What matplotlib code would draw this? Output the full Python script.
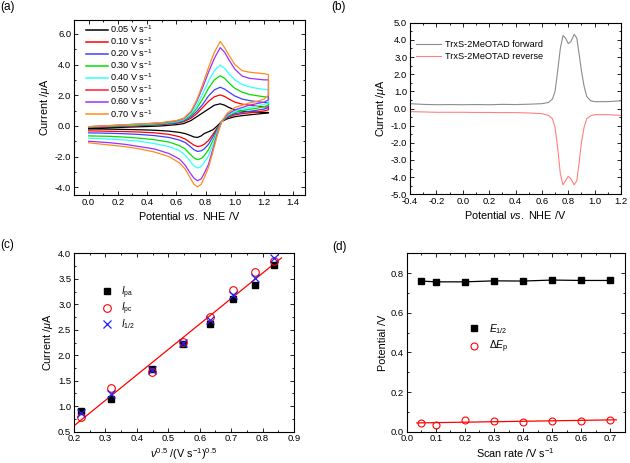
import numpy as np
import matplotlib
matplotlib.use("Agg")
import matplotlib.pyplot as plt
from matplotlib.lines import Line2D
from matplotlib.ticker import MultipleLocator, FormatStrFormatter

plt.rcParams['font.family'] = ['Liberation Sans', 'DejaVu Sans']
plt.rcParams['mathtext.fontset'] = 'custom'
plt.rcParams['mathtext.rm'] = 'Liberation Sans'
plt.rcParams['mathtext.it'] = 'Liberation Sans:italic'
plt.rcParams['mathtext.bf'] = 'Liberation Sans:bold'

# ---------------- Panel (a): CV at different scan rates ----------------
scan_labels = ["0.05", "0.10", "0.20", "0.30", "0.40", "0.50", "0.60", "0.70"]
scan_colors = ["#000000", "#ff0000", "#3f3fff", "#00e000", "#33ffff", "#ff1a3c", "#9b30ff", "#ff8c1a"]

E_fwd = [0.0, 0.1, 0.2, 0.3, 0.4, 0.5, 0.6, 0.65, 0.7, 0.74, 0.78, 0.82, 0.86, 0.9,
         0.93, 0.96, 1.0, 1.05, 1.1, 1.15, 1.2, 1.23]
E_rev = [1.23, 1.2, 1.15, 1.1, 1.05, 1.0, 0.95, 0.91, 0.88, 0.85, 0.82, 0.79, 0.77, 0.745,
         0.72, 0.69, 0.66, 0.62, 0.55, 0.45, 0.35, 0.25, 0.15, 0.05, 0.0]

I_fwd_005 = [-0.15, -0.12, -0.1, -0.07, -0.04, 0.0, 0.08, 0.15, 0.35, 0.6, 0.85, 1.1, 1.35, 1.44, 1.35, 1.2, 1.05, 0.97, 0.92, 0.9, 0.88, 0.87]
I_fwd_010 = [-0.1, -0.07, -0.04, 0.0, 0.04, 0.09, 0.17, 0.27, 0.5, 0.8, 1.2, 1.6, 1.9, 2.02, 1.92, 1.75, 1.55, 1.42, 1.35, 1.3, 1.25, 1.22]
I_fwd_020 = [-0.08, -0.05, -0.02, 0.02, 0.06, 0.11, 0.2, 0.32, 0.6, 0.95, 1.4, 1.95, 2.35, 2.52, 2.4, 2.2, 1.95, 1.75, 1.65, 1.58, 1.53, 1.5]
I_fwd_030 = [-0.07, -0.03, 0.0, 0.04, 0.08, 0.14, 0.24, 0.38, 0.7, 1.15, 1.75, 2.45, 3.0, 3.27, 3.1, 2.8, 2.45, 2.2, 2.05, 1.97, 1.9, 1.88]
I_fwd_040 = [-0.05, 0.0, 0.03, 0.07, 0.12, 0.18, 0.28, 0.42, 0.8, 1.35, 2.1, 2.9, 3.6, 3.97, 3.75, 3.4, 3.0, 2.7, 2.55, 2.45, 2.38, 2.35]
I_fwd_060 = [-0.05, 0.0, 0.05, 0.1, 0.15, 0.2, 0.32, 0.48, 0.9, 1.6, 2.5, 3.5, 4.4, 5.1, 4.8, 4.3, 3.7, 3.25, 3.1, 3.05, 3.0, 3.0]
I_fwd_070 = [-0.05, 0.0, 0.05, 0.1, 0.15, 0.22, 0.35, 0.5, 0.95, 1.7, 2.7, 3.8, 4.8, 5.5, 5.1, 4.6, 4.0, 3.6, 3.5, 3.45, 3.4, 3.35]

I_rev_005 = [0.85, 0.82, 0.77, 0.72, 0.67, 0.6, 0.47, 0.29, 0.0, -0.25, -0.38, -0.5, -0.65, -0.75, -0.72, -0.6, -0.5, -0.42, -0.34, -0.28, -0.25, -0.23, -0.21, -0.2, -0.2]
I_rev_010 = [1.05, 0.98, 0.9, 0.85, 0.8, 0.72, 0.55, 0.29, -0.12, -0.55, -0.95, -1.2, -1.3, -1.34, -1.25, -1.05, -0.85, -0.7, -0.55, -0.45, -0.4, -0.37, -0.35, -0.33, -0.32]
I_rev_020 = [1.2, 1.1, 1.02, 0.95, 0.88, 0.8, 0.6, 0.29, -0.2, -0.7, -1.2, -1.5, -1.62, -1.66, -1.55, -1.3, -1.08, -0.92, -0.75, -0.63, -0.56, -0.51, -0.48, -0.46, -0.45]
I_rev_030 = [1.35, 1.25, 1.15, 1.08, 1.0, 0.88, 0.65, 0.29, -0.3, -0.95, -1.55, -1.95, -2.12, -2.2, -2.08, -1.8, -1.5, -1.28, -1.05, -0.9, -0.8, -0.73, -0.68, -0.66, -0.65]
I_rev_040 = [1.5, 1.4, 1.3, 1.2, 1.1, 0.95, 0.7, 0.29, -0.4, -1.2, -1.95, -2.4, -2.65, -2.74, -2.6, -2.25, -1.9, -1.6, -1.35, -1.15, -1.0, -0.92, -0.86, -0.82, -0.8]
I_rev_060 = [1.7, 1.55, 1.45, 1.35, 1.2, 1.05, 0.75, 0.29, -0.5, -1.5, -2.5, -3.1, -3.45, -3.57, -3.4, -3.0, -2.55, -2.15, -1.8, -1.5, -1.35, -1.2, -1.1, -1.03, -1.0]
I_rev_070 = [2.0, 1.75, 1.6, 1.5, 1.35, 1.2, 0.85, 0.29, -0.6, -1.7, -2.7, -3.4, -3.8, -3.97, -3.8, -3.3, -2.8, -2.4, -2.0, -1.7, -1.5, -1.35, -1.25, -1.15, -1.1]

# curves drawn (the 0.50 V/s trace is not visible in the original)
cv_fwd = {"0.05": I_fwd_005, "0.10": I_fwd_010, "0.20": I_fwd_020, "0.30": I_fwd_030,
          "0.40": I_fwd_040, "0.60": I_fwd_060, "0.70": I_fwd_070}
cv_rev = {"0.05": I_rev_005, "0.10": I_rev_010, "0.20": I_rev_020, "0.30": I_rev_030,
          "0.40": I_rev_040, "0.60": I_rev_060, "0.70": I_rev_070}

# ---------------- Panel (b): DPV forward / reverse ----------------
E_dpv = [-0.4, -0.3, -0.2, -0.1, 0.0, 0.1, 0.2, 0.3, 0.4, 0.5, 0.6, 0.65, 0.68, 0.7, 0.72,
         0.74, 0.76, 0.78, 0.8, 0.82, 0.845, 0.865, 0.88, 0.9, 0.92, 0.94, 0.97, 1.0, 1.1, 1.2]
I_dpv_fwd = [0.28, 0.24, 0.22, 0.23, 0.22, 0.23, 0.22, 0.24, 0.23, 0.25, 0.28, 0.35, 0.55, 1.0, 2.2,
             3.5, 4.25, 4.1, 3.78, 3.9, 4.32, 4.1, 3.3, 2.2, 1.3, 0.7, 0.45, 0.4, 0.4, 0.45]
I_dpv_rev = [-0.18, -0.2, -0.22, -0.22, -0.22, -0.23, -0.23, -0.24, -0.24, -0.26, -0.3, -0.4, -0.6, -1.1, -2.3,
             -3.8, -4.45, -4.2, -3.95, -4.1, -4.45, -4.2, -3.3, -2.0, -1.1, -0.6, -0.42, -0.36, -0.36, -0.4]

# ---------------- Panel (c): peak currents vs sqrt(scan rate) ----------------
sqrt_v = [0.2236, 0.3162, 0.4472, 0.5477, 0.6325, 0.7071, 0.7746, 0.8367]
I_pa = [0.91, 1.14, 1.73, 2.22, 2.61, 3.10, 3.38, 3.77]
I_pc = [0.78, 1.36, 1.68, 2.26, 2.76, 3.28, 3.63, 3.85]
I_half = [0.86, 1.23, 1.71, 2.25, 2.69, 3.18, 3.51, 3.90]
fit_c_range = [0.2, 0.86]

# ---------------- Panel (d): potentials vs scan rate ----------------
scan_rate = [0.05, 0.1, 0.2, 0.3, 0.4, 0.5, 0.6, 0.7]
E_half = [0.760, 0.756, 0.756, 0.761, 0.760, 0.765, 0.763, 0.763]
dE_p = [0.046, 0.034, 0.061, 0.054, 0.047, 0.056, 0.054, 0.061]
fit_d_range = [0.035, 0.72]

TICK = 6.8
LAB = 7.8


def style(ax):
    ax.tick_params(which='both', direction='in', top=True, right=True, labelsize=TICK,
                   width=0.6, pad=2)
    ax.tick_params(which='major', length=3)
    ax.tick_params(which='minor', length=1.6)
    for s in ax.spines.values():
        s.set_linewidth(0.8)


fig = plt.figure(figsize=(6.3, 4.63), dpi=100)
H = 463.0
W = 630.0


def pos(l, t, r, b):
    return [l / W, 1 - b / H, (r - l) / W, (b - t) / H]


# (a)
ax = fig.add_axes(pos(74, 20, 305, 195))
for lab, col in zip(scan_labels, scan_colors):
    if lab in cv_fwd:
        E = E_fwd + E_rev
        I = cv_fwd[lab] + cv_rev[lab]
        ax.plot(E, I, color=col, lw=0.9)
handles = [Line2D([], [], color=c, lw=1.1) for c in scan_colors]
ax.legend(handles, [f"{s} V s$^{{-1}}$" for s in scan_labels], loc='upper left',
          bbox_to_anchor=(0.03, 1.012), frameon=False, fontsize=6.6, handlelength=2.3,
          handletextpad=0.3, labelspacing=0.04, borderaxespad=0.2)
ax.set_xlim(-0.1, 1.48)
ax.set_ylim(-4.5, 6.9)
ax.xaxis.set_major_locator(MultipleLocator(0.2))
ax.xaxis.set_minor_locator(MultipleLocator(0.1))
ax.yaxis.set_major_locator(MultipleLocator(2.0))
ax.yaxis.set_minor_locator(MultipleLocator(1.0))
ax.xaxis.set_major_formatter(FormatStrFormatter('%.1f'))
ax.yaxis.set_major_formatter(FormatStrFormatter('%.1f'))
ax.set_xlabel(r"Potential $\mathit{vs.}$ NHE /V", fontsize=LAB, labelpad=2)
ax.set_ylabel(r"Current /$\mathit{\mu}$A", fontsize=LAB, labelpad=2)
style(ax)

# (b)
ax = fig.add_axes(pos(410, 22.7, 621, 194.3))
ax.plot(E_dpv, I_dpv_fwd, color='#8c8c8c', lw=0.8, label='TrxS-2MeOTAD forward')
ax.plot(E_dpv, I_dpv_rev, color='#ff8080', lw=0.8, label='TrxS-2MeOTAD reverse')
ax.legend(loc='upper left', bbox_to_anchor=(0.0, 0.93), frameon=False, fontsize=6.6,
          handlelength=2.8, handletextpad=0.4, labelspacing=0.35, borderaxespad=0.2)
ax.set_xlim(-0.4, 1.2)
ax.set_ylim(-5.0, 5.0)
ax.xaxis.set_major_locator(MultipleLocator(0.2))
ax.xaxis.set_minor_locator(MultipleLocator(0.1))
ax.yaxis.set_major_locator(MultipleLocator(1.0))
ax.yaxis.set_minor_locator(MultipleLocator(0.5))
ax.xaxis.set_major_formatter(FormatStrFormatter('%.1f'))
ax.yaxis.set_major_formatter(FormatStrFormatter('%.1f'))
ax.set_xlabel(r"Potential $\mathit{vs.}$ NHE /V", fontsize=LAB, labelpad=2)
ax.set_ylabel(r"Current /$\mathit{\mu}$A", fontsize=LAB, labelpad=2)
style(ax)

# (c)
ax = fig.add_axes(pos(74, 253.3, 294, 431.7))
coef = np.polyfit(sqrt_v, I_half, 1)
xf = np.array(fit_c_range)
ax.plot(xf, np.polyval(coef, xf), color='#ff0000', lw=0.9)
ax.plot(sqrt_v, I_pa, 's', color='black', ms=5, label=r'$\mathit{I}_{\rm pa}$', ls='none')
ax.plot(sqrt_v, I_pc, 'o', mfc='none', mec='#ff0000', ms=5.5, mew=0.8,
        label=r'$\mathit{I}_{\rm pc}$', ls='none')
ax.plot(sqrt_v, I_half, 'x', color='#2020ff', ms=6, mew=0.9, label=r'$\mathit{I}_{1/2}$', ls='none')
ax.legend(loc='upper left', bbox_to_anchor=(0.08, 0.86), frameon=False, fontsize=7,
          handletextpad=0.4, labelspacing=0.0, borderaxespad=0.2)
ax.set_xlim(0.2, 0.9)
ax.set_ylim(0.5, 4.0)
ax.xaxis.set_major_locator(MultipleLocator(0.1))
ax.xaxis.set_minor_locator(MultipleLocator(0.05))
ax.yaxis.set_major_locator(MultipleLocator(0.5))
ax.yaxis.set_minor_locator(MultipleLocator(0.25))
ax.xaxis.set_major_formatter(FormatStrFormatter('%.1f'))
ax.yaxis.set_major_formatter(FormatStrFormatter('%.1f'))
ax.set_xlabel(r"$\mathit{\nu}^{\mathit{0.5}}$ /(V s$^{-1}$)$^{0.5}$", fontsize=LAB, labelpad=2)
ax.set_ylabel(r"Current /$\mathit{\mu}$A", fontsize=LAB, labelpad=2)
style(ax)

# (d)
ax = fig.add_axes(pos(406.7, 253.3, 625, 431.7))
ax.plot(scan_rate, E_half, color='black', lw=0.9)
ax.plot(scan_rate, E_half, 's', color='black', ms=4.5, ls='none', label=r'$\mathit{E}_{1/2}$')
coef_d = np.polyfit(scan_rate, dE_p, 1)
xd = np.array(fit_d_range)
ax.plot(xd, np.polyval(coef_d, xd), color='#ff0000', lw=0.9)
ax.plot(scan_rate, dE_p, 'o', mfc='none', mec='#ff0000', ms=5, mew=0.8, ls='none',
        label=r'$\mathit{\Delta E}_{\rm p}$')
ax.legend(loc='upper left', bbox_to_anchor=(0.23, 0.65), frameon=False, fontsize=7.5,
          handletextpad=0.5, labelspacing=0.3, borderaxespad=0.2)
ax.set_xlim(0.0, 0.75)
ax.set_ylim(0.0, 0.9)
ax.xaxis.set_major_locator(MultipleLocator(0.1))
ax.xaxis.set_minor_locator(MultipleLocator(0.05))
ax.yaxis.set_major_locator(MultipleLocator(0.2))
ax.yaxis.set_minor_locator(MultipleLocator(0.1))
ax.xaxis.set_major_formatter(FormatStrFormatter('%.1f'))
ax.yaxis.set_major_formatter(FormatStrFormatter('%.1f'))
ax.set_xlabel(r"Scan rate /V s$^{-1}$", fontsize=LAB, labelpad=2)
ax.set_ylabel("Potential /V", fontsize=LAB, labelpad=2)
style(ax)

for txt, x, y in [("(a)", 0, 7), ("(b)", 331, 7), ("(c)", 0, 245), ("(d)", 332, 247)]:
    fig.text(x / W, 1 - y / H, txt, fontsize=8.5, va='center', ha='left')

fig.savefig("out.png", dpi=100)
